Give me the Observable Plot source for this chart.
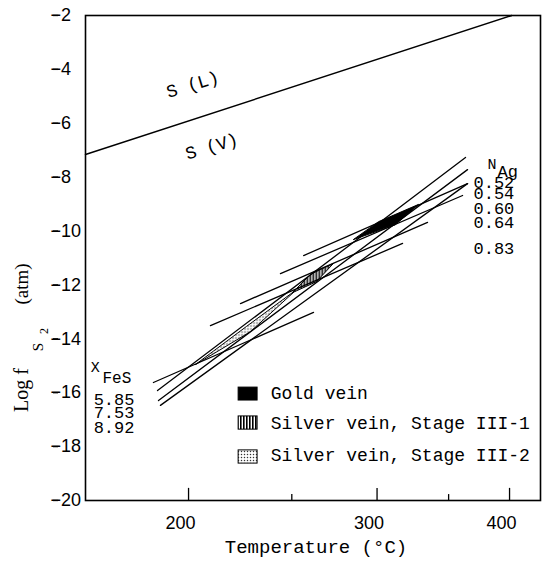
<!DOCTYPE html>
<html><head><meta charset="utf-8">
<script src="https://cdn.jsdelivr.net/npm/d3@7"></script>
<script src="https://cdn.jsdelivr.net/npm/@observablehq/plot@0.6"></script>
<style>body{margin:0;background:#fff;} svg{display:block;}</style>
</head><body>
<div id="chart"></div>
<script>
// ---- data (temperature in °C, log fS2 in atm) ----
const tempDomain = [158.8, 428.6];
const tempTicksMajor = [200, 300, 400];
const tempTicksMinor = [250, 350];
const logTicks = [-2, -4, -6, -8, -10, -12, -14, -16, -18, -20];

// S(L)/S(V) boundary
const sBoundaryT = [158.8, 402.0];
const sBoundaryLog = [-7.16, -2.0];

// electrum N_Ag isopleths
const nAg = ["0.52", "0.54", "0.60", "0.64", "0.83"];
const nAgStartT = [256.4, 244.0, 223.9, 209.8, 185.1];
const nAgStartLog = [-10.91, -11.58, -12.69, -13.51, -15.62];
const nAgEndT = [364.7, 360.8, 334.4, 316.9, 261.9];
const nAgEndLog = [-8.24, -8.68, -9.68, -10.46, -13.02];

// sphalerite X_FeS isopleths
const xFeS = ["5.85", "7.53", "8.92"];
const xFeSStartT = [186.8, 187.2, 188.0];
const xFeSStartLog = [-15.92, -16.29, -16.47];
const xFeSEndT = [363.1, 364.7, 364.7];
const xFeSEndLog = [-7.27, -7.72, -8.24];

// fields
const goldT = [285.3, 301.0, 328.0, 312.1];
const goldLog = [-10.31, -9.65, -9.01, -9.76];
const stage1T = [250.4, 260.2, 273.3, 263.6];
const stage1Log = [-12.28, -11.61, -11.20, -11.87];
const stage2T = [203.1, 226.8, 252.6, 228.8];
const stage2Log = [-14.95, -13.54, -12.17, -13.73];

const legendLabels = ["Gold vein", "Silver vein, Stage III-1", "Silver vein, Stage III-2"];

// ---- helpers ----
const inv = t => 1000 / (t + 273.15);   // reciprocal temperature axis
const mono = "Liberation Mono";

const segRows = [];
nAg.forEach((n, i) => {
  segRows.push({id: "Ag" + n, T: nAgStartT[i], L: nAgStartLog[i]});
  segRows.push({id: "Ag" + n, T: nAgEndT[i], L: nAgEndLog[i]});
});
xFeS.forEach((n, i) => {
  segRows.push({id: "Fe" + n, T: xFeSStartT[i], L: xFeSStartLog[i]});
  segRows.push({id: "Fe" + n, T: xFeSEndT[i], L: xFeSEndLog[i]});
});

// annotation anchors (data units)
const nAgLabelT = 369.5, nAgLabelLog = [-8.20, -8.61, -9.16, -9.68, -10.65];
const xFeSLabelT = 161.8, xFeSLabelLog = [-16.25, -16.73, -17.29];
const legSwatchT = [223.0, 232.3];
const legSwatchLog = [[-15.81, -16.29], [-16.88, -17.37], [-18.14, -18.63]];
const legTextT = 238.9, legTextLog = [-16.03, -17.14, -18.33];

const polygon = (T, Lg, fill) =>
  Plot.line(T, {x: inv, y: (d, i) => Lg[i], curve: "linear-closed", fill, stroke: "black", strokeWidth: 1});

const swatch = (k, fill) =>
  Plot.rect([k], {x1: () => inv(legSwatchT[0]), x2: () => inv(legSwatchT[1]),
    y1: () => legSwatchLog[k][0], y2: () => legSwatchLog[k][1], fill, stroke: "black", strokeWidth: 1});

const svg = Plot.plot({
  width: 543, height: 565,
  marginLeft: 85, marginRight: 3, marginTop: 15, marginBottom: 65,
  style: {fontFamily: "Liberation Sans", fontSize: "18px", color: "black", background: "white", overflow: "visible"},
  x: {domain: tempDomain.map(inv)},
  y: {domain: [-20, -2]},
  marks: [
    polygon(stage2T, stage2Log, "url(#dots)"),
    polygon(stage1T, stage1Log, "url(#vhatch)"),
    polygon(goldT, goldLog, "black"),
    Plot.line(segRows, {x: d => inv(d.T), y: "L", z: "id", stroke: "black", strokeWidth: 1.3}),
    Plot.line(sBoundaryT, {x: inv, y: (d, i) => sBoundaryLog[i], stroke: "black", strokeWidth: 1.4}),
    Plot.frame({stroke: "black", strokeWidth: 1.6}),
    Plot.ruleX(tempTicksMajor, {x: inv, y1: -20, y2: -19.55, strokeWidth: 1.3}),
    Plot.ruleX(tempTicksMinor, {x: inv, y1: -20, y2: -19.78, strokeWidth: 1.3}),
    Plot.axisX({ticks: tempTicksMajor.map(inv), tickFormat: d => String(Math.round(1000 / d - 273.15)),
      tickSize: 0, tickPadding: 16, dx: -8, fontSize: 18, label: null}),
    Plot.axisY({ticks: logTicks, tickSize: 5, tickPadding: 3, textAnchor: "start", dx: -27,
      fontSize: 18, label: null, strokeWidth: 1.3}),
    // region labels
    Plot.text(["S (L)"], {x: () => inv(201.8), y: () => -4.56, rotate: -17, fontFamily: mono, fontSize: 18}),
    Plot.text(["S (V)"], {x: () => inv(210.3), y: () => -6.86, rotate: -17, fontFamily: mono, fontSize: 18}),
    // N_Ag labels
    Plot.text(["N"], {x: () => inv(381.1), y: () => -7.53, textAnchor: "start", fontFamily: mono, fontSize: 15}),
    Plot.text(["Ag"], {x: () => inv(389.5), y: () => -7.79, textAnchor: "start", fontFamily: mono, fontSize: 17}),
    Plot.text(nAg, {x: () => inv(nAgLabelT), y: (d, i) => nAgLabelLog[i], textAnchor: "start", fontFamily: mono, fontSize: 17, letterSpacing: 0.6}),
    // X_FeS labels
    Plot.text(["X"], {x: () => inv(160.7), y: () => -15.06, textAnchor: "start", fontFamily: mono, fontSize: 15}),
    Plot.text(["FeS"], {x: () => inv(165.1), y: () => -15.44, textAnchor: "start", fontFamily: mono, fontSize: 16}),
    Plot.text(xFeS, {x: () => inv(xFeSLabelT), y: (d, i) => xFeSLabelLog[i], textAnchor: "start", fontFamily: mono, fontSize: 17, letterSpacing: 0.6}),
    // legend
    swatch(0, "black"),
    swatch(1, "url(#vhatch)"),
    swatch(2, "url(#dots)"),
    Plot.text(legendLabels, {x: () => inv(legTextT), y: (d, i) => legTextLog[i], textAnchor: "start", fontFamily: mono, fontSize: 18})
  ]
});

// patterns
const s = d3.select(svg);
const defs = s.insert("defs", ":first-child");
const vh = defs.append("pattern").attr("id", "vhatch").attr("patternUnits", "userSpaceOnUse").attr("width", 3).attr("height", 3);
vh.append("rect").attr("width", 3).attr("height", 3).attr("fill", "white");
vh.append("rect").attr("width", 1.6).attr("height", 3).attr("fill", "black");
const dp = defs.append("pattern").attr("id", "dots").attr("patternUnits", "userSpaceOnUse").attr("width", 3).attr("height", 3);
dp.append("rect").attr("width", 3).attr("height", 3).attr("fill", "white");
dp.append("circle").attr("cx", 1.5).attr("cy", 1.5).attr("r", 0.75).attr("fill", "#333");

// axis titles
s.append("text").attr("x", 316).attr("y", 553).attr("text-anchor", "middle")
  .attr("font-family", mono).attr("font-size", 19).attr("fill", "black").text("Temperature (°C)");

const yt = s.append("text").attr("transform", "translate(28,0) rotate(-90)")
  .attr("font-family", "Liberation Serif").attr("font-size", 20).attr("fill", "black");
yt.append("tspan").attr("x", -390).attr("y", 0).attr("font-size", 20).text("Log f");
yt.append("tspan").attr("x", -347).attr("y", 15).attr("font-size", 15).text("S");
yt.append("tspan").attr("x", -331).attr("y", 20).attr("font-size", 12).text("2");
yt.append("tspan").attr("x", -284).attr("y", 0).attr("font-size", 19).text("(atm)");

document.getElementById("chart").appendChild(svg);
</script>
</body></html>
